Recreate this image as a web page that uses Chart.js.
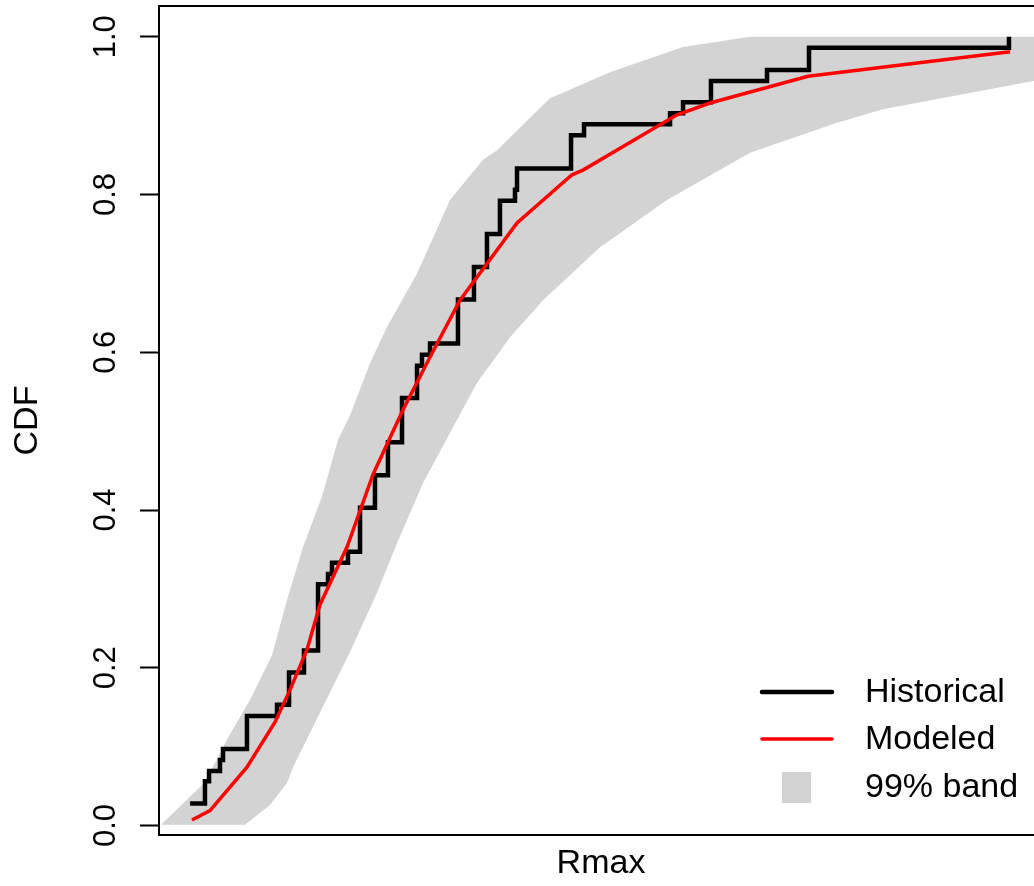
<!DOCTYPE html>
<html>
<head>
<meta charset="utf-8">
<script src="https://cdn.jsdelivr.net/npm/chart.js@4.4.1/dist/chart.umd.min.js"></script>
<style>
  html, body { margin: 0; padding: 0; background: #fff; overflow: hidden; }
  #wrap { width: 1050px; height: 886px; }
</style>
</head>
<body>
<div id="wrap"><canvas id="cdf" width="1050" height="886"></canvas></div>
<script>
const histX = [3.51, 5.20, 5.66, 6.90, 7.24, 9.95, 13.35, 14.71, 16.40, 17.99, 19.12, 19.57,
  21.38, 22.74, 24.43, 25.90, 27.49, 29.19, 29.75, 30.66, 33.82, 35.63, 37.10, 38.57,
  40.27, 40.50, 46.61, 48.08, 57.81, 59.28, 62.44, 68.78, 73.53, 96.15];
const histY = [0.028, 0.056, 0.069, 0.083, 0.097, 0.139, 0.153, 0.194, 0.222, 0.306, 0.319, 0.333,
  0.347, 0.403, 0.444, 0.486, 0.542, 0.583, 0.597, 0.611, 0.667, 0.708, 0.750, 0.792,
  0.806, 0.833, 0.875, 0.889, 0.903, 0.917, 0.944, 0.958, 0.986, 1.000];

// modeled CDF
const modelX = [3.73, 5.77, 9.95, 13.12, 14.82, 16.74, 18.21, 21.27, 24.21, 27.60, 30.66,
  34.05, 40.50, 46.72, 47.96, 58.60, 62.33, 73.42, 96.27];
const modelY = [0.007, 0.019, 0.074, 0.131, 0.172, 0.223, 0.280, 0.353, 0.445, 0.527, 0.594,
  0.666, 0.764, 0.825, 0.831, 0.901, 0.916, 0.950, 0.981];

// 99% band edges
const bandHiX = [0.23, 5.20, 7.69, 10.29, 12.78, 14.48, 16.29, 18.44, 20.25, 21.61, 23.87,
  25.79, 29.19, 32.92, 36.65, 38.24, 44.23, 51.02, 59.28, 66.86, 100];
const bandHiY = [0.001, 0.055, 0.109, 0.159, 0.216, 0.286, 0.353, 0.417, 0.489, 0.520, 0.586,
  0.632, 0.700, 0.793, 0.844, 0.856, 0.922, 0.955, 0.987, 1.000, 1.000];
const bandLoX = [0.23, 9.73, 12.56, 14.48, 15.16, 21.61, 24.66, 26.92, 29.86, 32.92, 35.97,
  39.71, 43.44, 49.89, 57.47, 66.86, 76.70, 81.90, 100];
const bandLoY = [0.001, 0.001, 0.026, 0.054, 0.074, 0.220, 0.295, 0.358, 0.434, 0.498, 0.561,
  0.619, 0.666, 0.733, 0.793, 0.853, 0.891, 0.908, 0.946];

const yTicks = [0, 0.2, 0.4, 0.6, 0.8, 1.0];
const yTickLabels = ["0.0", "0.2", "0.4", "0.6", "0.8", "1.0"];

const FONT = '"Liberation Sans", Arial, sans-serif';
const GREY = "#d3d3d3";

const pts = (xs, ys) => xs.map((x, i) => ({ x, y: ys[i] }));

// box round the plot region, like R's box()
const boxPlugin = {
  id: "box",
  afterDraw(chart) {
    const { ctx, chartArea: a } = chart;
    ctx.save();
    ctx.strokeStyle = "#000";
    ctx.lineWidth = 2;
    ctx.strokeRect(a.left, a.top, a.right - a.left, a.bottom - a.top);
    ctx.restore();
  },
};

// rotated y tick labels, placed from the y scale
const yLabelPlugin = {
  id: "yLabels",
  afterDraw(chart) {
    const { ctx } = chart;
    const ys = chart.scales.y;
    ctx.save();
    ctx.fillStyle = "#000";
    ctx.font = "31px " + FONT;
    ctx.textAlign = "center";
    ctx.textBaseline = "alphabetic";
    yTicks.forEach((v, i) => {
      ctx.save();
      ctx.translate(ys.right - 44, ys.getPixelForValue(v));
      ctx.rotate(-Math.PI / 2);
      ctx.fillText(yTickLabels[i], 0, 0);
      ctx.restore();
    });
    ctx.restore();
  },
};

// R style legend in the bottom right corner
const legendPlugin = {
  id: "rLegend",
  afterDraw(chart) {
    const { ctx, chartArea: a } = chart;
    const ds = chart.data.datasets;
    const rows = [
      { d: ds[0], y: a.bottom - 143, kind: "line" },
      { d: ds[1], y: a.bottom - 96, kind: "line" },
      { d: ds[2], y: a.bottom - 48, kind: "box" },
    ];
    ctx.save();
    ctx.font = "34px " + FONT;
    ctx.textBaseline = "middle";
    ctx.textAlign = "left";
    rows.forEach((r) => {
      if (r.kind === "line") {
        ctx.strokeStyle = r.d.borderColor;
        ctx.lineWidth = r.d.borderWidth;
        ctx.lineCap = "round";
        ctx.beginPath();
        ctx.moveTo(a.right - 281, r.y);
        ctx.lineTo(a.right - 211, r.y);
        ctx.stroke();
      } else {
        ctx.fillStyle = r.d.backgroundColor;
        ctx.fillRect(a.right - 261, r.y - 15, 29, 31);
      }
      ctx.fillStyle = "#000";
      ctx.fillText(r.d.label, a.right - 178, r.y + 1);
    });
    ctx.restore();
  },
};

new Chart(document.getElementById("cdf"), {
  type: "line",
  data: {
    datasets: [
      {
        label: "Historical",
        data: pts(histX, histY),
        stepped: "before",
        borderColor: "#000",
        borderWidth: 4.5,
        pointRadius: 0,
        fill: false,
        order: 2,
      },
      {
        label: "Modeled",
        data: pts(modelX, modelY),
        borderColor: "#ff0000",
        borderWidth: 3.5,
        pointRadius: 0,
        tension: 0,
        fill: false,
        order: 1,
      },
      {
        label: "99% band",
        data: pts(bandHiX, bandHiY),
        borderWidth: 0,
        borderColor: GREY,
        backgroundColor: GREY,
        pointRadius: 0,
        fill: "+1",
        order: 4,
      },
      {
        label: "band low",
        data: pts(bandLoX, bandLoY),
        borderWidth: 0,
        borderColor: GREY,
        pointRadius: 0,
        fill: false,
        order: 3,
      },
    ],
  },
  options: {
    responsive: false,
    animation: false,
    devicePixelRatio: 1,
    layout: { padding: { top: 6, right: 7, left: 0, bottom: 0 } },
    plugins: {
      legend: { display: false },
      tooltip: { enabled: false },
    },
    scales: {
      x: {
        type: "linear",
        min: 0,
        max: 100,
        afterFit: (s) => { s.height = 51; },
        ticks: { display: false },
        grid: { display: false },
        border: { display: false },
        title: {
          display: true,
          text: "Rmax",
          color: "#000",
          font: { family: FONT, size: 34 },
          padding: { top: 0, bottom: 2 },
        },
      },
      y: {
        type: "linear",
        min: -0.012,
        max: 1.039,
        afterBuildTicks: (s) => { s.ticks = yTicks.map((v) => ({ value: v })); },
        afterFit: (s) => { s.width = 159; },
        ticks: { display: false },
        grid: {
          drawOnChartArea: false,
          drawTicks: true,
          tickLength: 19,
          tickColor: "#000",
          tickWidth: 2,
        },
        border: { display: false },
        title: {
          display: true,
          text: "CDF",
          color: "#000",
          font: { family: FONT, size: 34 },
          padding: { top: 7, bottom: 0 },
        },
      },
    },
  },
  plugins: [boxPlugin, yLabelPlugin, legendPlugin],
});
</script>
</body>
</html>
